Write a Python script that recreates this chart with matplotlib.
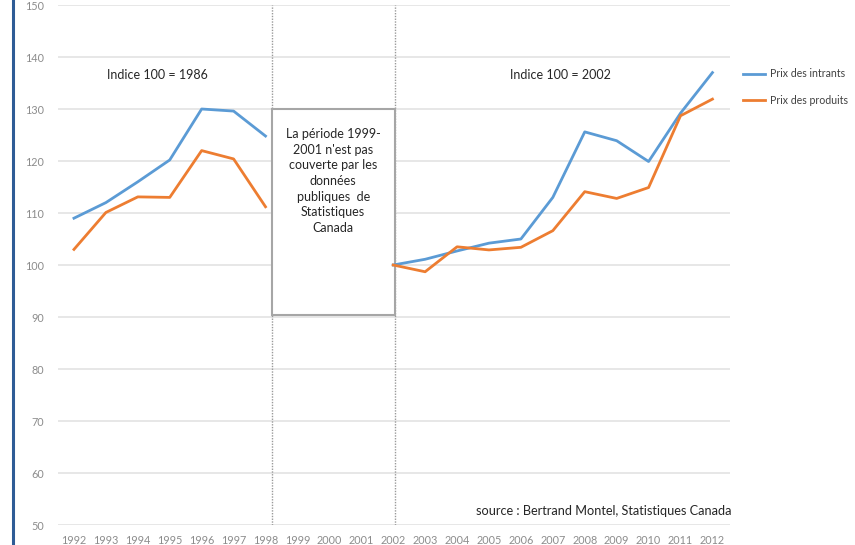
import matplotlib.pyplot as plt
from matplotlib.patches import Rectangle

plt.rcParams['font.family'] = ['Lato', 'DejaVu Sans']

years_a = [1992, 1993, 1994, 1995, 1996, 1997, 1998]
intrants_a = [109.0, 112.0, 116.0, 120.2, 130.0, 129.6, 124.8]
produits_a = [103.0, 110.1, 113.1, 113.0, 122.0, 120.4, 111.2]

years_b = [2002, 2003, 2004, 2005, 2006, 2007, 2008, 2009, 2010, 2011, 2012]
intrants_b = [100.0, 101.1, 102.7, 104.2, 105.0, 113.0, 125.6, 123.9, 119.9, 129.2, 137.0]
produits_b = [100.0, 98.7, 103.5, 102.9, 103.4, 106.6, 114.1, 112.8, 114.9, 128.7, 131.9]

all_years = list(range(1992, 2013))
y_ticks = list(range(50, 151, 10))

BLUE = '#5B9BD5'
ORANGE = '#ED7D31'
GREY = '#8C8C8C'

fig = plt.figure(figsize=(8.55, 5.45), dpi=100)
ax = fig.add_axes([58 / 855, 1 - 525 / 545, 672 / 855, 520 / 545])

ax.set_xlim(1991.5, 2012.55)
ax.set_ylim(50, 150)
ax.set_yticks(y_ticks)
ax.set_xticks(all_years)
ax.tick_params(axis='both', length=0, labelsize=7.8, labelcolor=GREY)
ax.tick_params(axis='y', pad=10)
ax.tick_params(axis='x', pad=7)
ax.grid(axis='y', color='#E3E3E3', linewidth=1.2)
ax.set_axisbelow(True)
for side in ax.spines.values():
    side.set_visible(False)

# gap 1999-2001: dotted separators and note box
for xv in (1998.2, 2002.05):
    ax.axvline(xv, color='#9A9A9A', linestyle=(0, (1, 1)), linewidth=1.0, zorder=1)
ax.add_patch(Rectangle((1998.2, 90.3), 3.85, 39.7, facecolor='white',
                       edgecolor='#A6A6A6', linewidth=1.5, zorder=2))
ax.text(2000.12, 126.3, "La période 1999-\n2001 n'est pas\ncouverte par les\ndonnées\npubliques  de\nStatistiques\nCanada",
        ha='center', va='top', fontsize=9, color='#262626', linespacing=1.36, zorder=3)

ax.plot(years_a, intrants_a, color=BLUE, linewidth=2, label='Prix des intrants', zorder=4)
ax.plot(years_a, produits_a, color=ORANGE, linewidth=2, label='Prix des produits', zorder=4)
ax.plot(years_b, intrants_b, color=BLUE, linewidth=2, zorder=4)
ax.plot(years_b, produits_b, color=ORANGE, linewidth=2, zorder=4)

ax.text(1994.6, 136.5, 'Indice 100 = 1986', ha='center', va='center', fontsize=9, color='#262626')
ax.text(2007.25, 136.5, 'Indice 100 = 2002', ha='center', va='center', fontsize=9, color='#262626')
ax.text(2012.6, 52.6, 'source : Bertrand Montel, Statistiques Canada', ha='right', va='center',
        fontsize=9.2, color='#262626')

fig.legend(loc='upper left', bbox_to_anchor=(739 / 855, 1 - 64 / 545), frameon=False,
           fontsize=7.6, handlelength=2.1, handletextpad=0.4, labelspacing=1.45,
           borderaxespad=0, labelcolor='#404040')

# blue page border on the left
fig.add_artist(plt.Line2D([12.5 / 855, 12.5 / 855], [0, 1], color='#2E5C96', linewidth=2.2))

fig.savefig('out.png', dpi=100)
